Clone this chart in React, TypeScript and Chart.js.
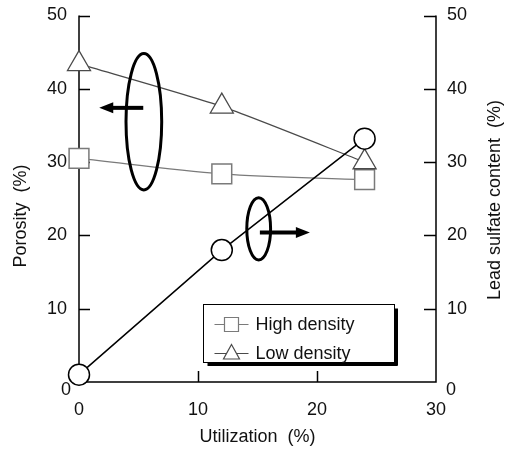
import React, { useEffect, useRef } from 'react';
import { Chart, registerables } from 'chart.js';

Chart.register(...registerables);

const utilization = [0, 12, 24];
const highDensity = [30.5, 28.4, 27.6];
const lowDensity = [43.4, 37.6, 30.0];
const leadSulfate = [1.0, 18.0, 33.2];
const xTicks = [0, 10, 20, 30];
const yTicks = [0, 10, 20, 30, 40, 50];
const y2Ticks = [0, 10, 20, 30, 40, 50];
const seriesNames = ['High density', 'Low density', 'Lead sulfate content'];
const xTitle = 'Utilization  (%)';
const yTitle = 'Porosity  (%)';
const y2Title = 'Lead sulfate content  (%)';
// annotation ellipses (axis units: x, left y)
const ellipseCx = [5.45, 15.1];
const ellipseCy = [35.5, 20.9];
const ellipseRx = [1.5, 1.0];
const ellipseRy = [9.3, 4.25];
// annotation arrows (axis units)
const arrowFrom = [5.4, 15.2];
const arrowTo = [1.7, 19.4];
const arrowY = [37.4, 20.4];

const FONT = '"Liberation Sans", Arial, sans-serif';

const decorPlugin = {
  id: 'decor',
  beforeDatasetsDraw(chart: any) {
    const { ctx, chartArea: a } = chart;
    const sx = chart.scales.x, sy = chart.scales.y, sy2 = chart.scales.y2;
    ctx.save();
    ctx.strokeStyle = '#000';
    ctx.lineWidth = 1.5;
    ctx.beginPath();
    ctx.moveTo(a.left, a.top);
    ctx.lineTo(a.left, a.bottom);
    ctx.lineTo(a.right, a.bottom);
    ctx.lineTo(a.right, a.top);
    ctx.stroke();
    // inward tick marks
    ctx.beginPath();
    sy.ticks.forEach((t: any) => {
      if (t.value === sy.min) return;
      const p = Math.round(sy.getPixelForValue(t.value)) + 0.5;
      ctx.moveTo(a.left, p);
      ctx.lineTo(a.left + 11, p);
    });
    sy2.ticks.forEach((t: any) => {
      if (t.value === sy2.min) return;
      const p = Math.round(sy2.getPixelForValue(t.value)) + 0.5;
      ctx.moveTo(a.right, p);
      ctx.lineTo(a.right - 12, p);
    });
    sx.ticks.forEach((t: any) => {
      if (t.value === sx.min || t.value === sx.max) return;
      const p = Math.round(sx.getPixelForValue(t.value)) + 0.5;
      ctx.moveTo(p, a.bottom);
      ctx.lineTo(p, a.bottom - 11);
    });
    ctx.stroke();

    // tick labels
    ctx.fillStyle = '#111';
    ctx.font = `18px ${FONT}`;
    ctx.textBaseline = 'middle';
    ctx.textAlign = 'right';
    sy.ticks.forEach((t: any) => {
      const p = sy.getPixelForValue(t.value);
      const off = t.value === sy.min ? 8 : 0;
      ctx.fillText(String(t.value), a.left - (t.value === sy.min ? 8 : 12), p + off);
    });
    ctx.textAlign = 'left';
    sy2.ticks.forEach((t: any) => {
      const p = sy2.getPixelForValue(t.value);
      const off = t.value === sy2.min ? 8 : 0;
      ctx.fillText(String(t.value), a.right + (t.value === sy2.min ? 10 : 11), p + off);
    });
    ctx.textAlign = 'center';
    sx.ticks.forEach((t: any) => {
      const p = sx.getPixelForValue(t.value);
      ctx.fillText(String(t.value), p, a.bottom + 28);
    });

    // axis titles
    ctx.font = `18px ${FONT}`;
    ctx.fillText(xTitle, (a.left + a.right) / 2 + 0, a.bottom + 55);
    ctx.save();
    ctx.translate(21, 216);
    ctx.rotate(-Math.PI / 2);
    ctx.fillText(yTitle, 0, 0);
    ctx.restore();
    ctx.save();
    ctx.translate(495, 200);
    ctx.rotate(-Math.PI / 2);
    ctx.fillText(y2Title, 0, 0);
    ctx.restore();
    ctx.restore();
  },
  afterDatasetsDraw(chart: any) {
    const { ctx, chartArea: a } = chart;
    const sx = chart.scales.x, sy = chart.scales.y;
    ctx.save();
    // ellipses
    ctx.strokeStyle = '#000';
    ctx.lineWidth = 3;
    ellipseCx.forEach((cx, i) => {
      const px = sx.getPixelForValue(cx);
      const py = sy.getPixelForValue(ellipseCy[i]);
      const rx = Math.abs(sx.getPixelForValue(cx + ellipseRx[i]) - px);
      const ry = Math.abs(sy.getPixelForValue(ellipseCy[i] + ellipseRy[i]) - py);
      ctx.beginPath();
      ctx.ellipse(px, py, rx, ry, 0, 0, Math.PI * 2);
      ctx.stroke();
    });
    // arrows
    ctx.fillStyle = '#000';
    arrowFrom.forEach((x0, i) => {
      const p0 = sx.getPixelForValue(x0);
      const p1 = sx.getPixelForValue(arrowTo[i]);
      const py = sy.getPixelForValue(arrowY[i]);
      const dir = Math.sign(p1 - p0);
      const head = 14;
      ctx.lineWidth = 4;
      ctx.beginPath();
      ctx.moveTo(p0, py);
      ctx.lineTo(p1 - dir * head + dir * 1, py);
      ctx.stroke();
      ctx.beginPath();
      ctx.moveTo(p1, py);
      ctx.lineTo(p1 - dir * head, py - 5.5);
      ctx.lineTo(p1 - dir * head, py + 5.5);
      ctx.closePath();
      ctx.fill();
    });

    // legend
    const w = a.right - a.left, h = a.bottom - a.top;
    const L = Math.round(a.left + 0.347 * w) + 0.5;
    const R = Math.round(a.left + 0.882 * w) + 0.5;
    const T = Math.round(a.top + 0.786 * h) + 0.5;
    const B = Math.round(a.top + 0.946 * h) + 0.5;
    ctx.fillStyle = '#fff';
    ctx.fillRect(L, T, R - L, B - T);
    ctx.strokeStyle = '#000';
    ctx.lineWidth = 1;
    ctx.strokeRect(L, T, R - L, B - T);
    ctx.fillStyle = '#000';
    ctx.fillRect(R, T + 4, 3.5, B - T - 1);
    ctx.fillRect(L + 4, B, R - L - 1, 3.5);
    const rows = [T + 20, T + 49];
    const styles = ['rect', 'triangle'];
    const colors = ['#7a7a7a', '#4a4a4a'];
    rows.forEach((ry, i) => {
      ctx.strokeStyle = colors[i];
      ctx.lineWidth = 1.2;
      ctx.beginPath();
      ctx.moveTo(L + 11, ry);
      ctx.lineTo(L + 45, ry);
      ctx.stroke();
      ctx.fillStyle = '#fff';
      ctx.beginPath();
      const cx = L + 28;
      if (styles[i] === 'rect') {
        ctx.rect(cx - 7, ry - 7, 14, 14);
      } else {
        ctx.moveTo(cx, ry - 9);
        ctx.lineTo(cx + 8, ry + 5.5);
        ctx.lineTo(cx - 8, ry + 5.5);
        ctx.closePath();
      }
      ctx.fill();
      ctx.stroke();
      ctx.fillStyle = '#111';
      ctx.font = `18px ${FONT}`;
      ctx.textAlign = 'left';
      ctx.textBaseline = 'middle';
      ctx.fillText(seriesNames[i], L + 52, ry + 1);
    });
    ctx.restore();
  },
};

export default function App() {
  const ref = useRef<HTMLCanvasElement | null>(null);
  useEffect(() => {
    if (!ref.current) return;
    const mk = (vals: number[]) => utilization.map((x, i) => ({ x, y: vals[i] }));
    const chart = new Chart(ref.current, {
      type: 'line',
      data: {
        datasets: [
          {
            label: seriesNames[0],
            data: mk(highDensity),
            yAxisID: 'y',
            borderColor: '#7a7a7a',
            borderWidth: 1.3,
            pointStyle: 'rect',
            pointRadius: 14,
            pointBorderColor: '#7a7a7a',
            pointBackgroundColor: '#fff',
            pointBorderWidth: 1.5,
            tension: 0.35,
            cubicInterpolationMode: 'monotone',
            clip: false,
            order: 2,
          },
          {
            label: seriesNames[1],
            data: mk(lowDensity),
            yAxisID: 'y',
            borderColor: '#4a4a4a',
            borderWidth: 1.3,
            pointStyle: 'triangle',
            pointRadius: 13.3,
            pointBorderColor: '#4a4a4a',
            pointBackgroundColor: '#fff',
            pointBorderWidth: 1.3,
            tension: 0.2,
            clip: false,
            order: 1,
          },
          {
            label: seriesNames[2],
            data: mk(leadSulfate),
            yAxisID: 'y2',
            borderColor: '#000',
            borderWidth: 1.5,
            pointStyle: 'circle',
            pointRadius: 10.5,
            pointBorderColor: '#000',
            pointBackgroundColor: '#fff',
            pointBorderWidth: 1.5,
            tension: 0,
            clip: false,
            order: 0,
          },
        ],
      },
      options: {
        animation: false,
        responsive: false,
        devicePixelRatio: 1,
        layout: { padding: { top: 9, left: 0, right: 0, bottom: 0 } },
        plugins: { legend: { display: false }, tooltip: { enabled: false } },
        scales: {
          x: {
            type: 'linear',
            min: 0,
            max: 30,
            ticks: { display: false },
            grid: { display: false },
            border: { display: false },
            afterBuildTicks: (s: any) => { s.ticks = xTicks.map((v) => ({ value: v })); },
            afterFit: (s: any) => { s.height = 68; },
          },
          y: {
            type: 'linear',
            position: 'left',
            min: 0,
            max: 50,
            ticks: { display: false },
            grid: { display: false },
            border: { display: false },
            afterBuildTicks: (s: any) => { s.ticks = yTicks.map((v) => ({ value: v })); },
            afterFit: (s: any) => { s.width = 79; },
          },
          y2: {
            type: 'linear',
            position: 'right',
            min: 0,
            max: 50,
            ticks: { display: false },
            grid: { display: false },
            border: { display: false },
            afterBuildTicks: (s: any) => { s.ticks = y2Ticks.map((v) => ({ value: v })); },
            afterFit: (s: any) => { s.width = 76; },
          },
        },
      } as any,
      plugins: [decorPlugin],
    });
    return () => chart.destroy();
  }, []);
  return (
    <div style={{ position: 'fixed', left: 0, top: 0, width: 512, height: 450, background: '#fff' }}>
      <canvas ref={ref} width={512} height={450} style={{ width: 512, height: 450 }} />
    </div>
  );
}
